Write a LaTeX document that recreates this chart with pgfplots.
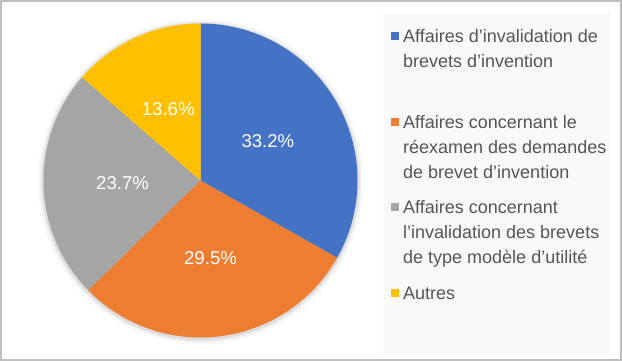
\documentclass[border=0pt]{standalone}
\usepackage{pgfplots}
\pgfplotsset{compat=1.18}
\usepackage{fontspec}
\setmainfont{Liberation Sans}
\definecolor{cBlue}{HTML}{4472C4}
\definecolor{cOrange}{HTML}{ED7D31}
\definecolor{cGray}{HTML}{A5A5A5}
\definecolor{cYellow}{HTML}{FFC000}
\definecolor{txt}{HTML}{555555}
\definecolor{legbg}{HTML}{F9F9F9}
\definecolor{frame}{HTML}{BFBFBF}
\begin{document}
\begin{tikzpicture}[x=1pt,y=1pt]
% slice values (percent)
\def\vA{33.2}\def\vB{29.5}\def\vC{23.7}\def\vD{13.6}
\pgfmathsetmacro\aA{90}
\pgfmathsetmacro\aB{\aA-3.6*\vA}
\pgfmathsetmacro\aC{\aB-3.6*\vB}
\pgfmathsetmacro\aD{\aC-3.6*\vC}
\pgfmathsetmacro\aE{\aD-3.6*\vD}
\pgfmathsetmacro\mA{(\aA+\aB)/2}
\pgfmathsetmacro\mB{(\aB+\aC)/2}
\pgfmathsetmacro\mC{(\aC+\aD)/2}
\pgfmathsetmacro\mD{(\aD+\aE)/2}
\def\pcx{200.5}\def\pcy{180.5}\def\pieR{157}\def\pieL{78}
\begin{axis}[at={(0,0)}, anchor=south west, x=1pt, y=1pt,
  xmin=0, xmax=622, ymin=0, ymax=361, hide axis, clip=false,
  scale only axis]
% background and frame
\fill[white] (0,0) rectangle (622,361);
\fill[legbg] (383,6) rectangle (610,348);
% soft shadow
\fill[black, opacity=0.02] (\pcx,\pcy-1) circle[radius=163];
\fill[black, opacity=0.03] (\pcx,\pcy-1) circle[radius=161];
\fill[black, opacity=0.04] (\pcx,\pcy-1) circle[radius=159.5];
\fill[black, opacity=0.05] (\pcx,\pcy-1) circle[radius=158.5];
% slices
\addplot[draw=none, fill=cBlue, domain=\aB:\aA, samples=120, variable=\t]
  ({\pcx+\pieR*cos(\t)},{\pcy+\pieR*sin(\t)}) -- (\pcx,\pcy) -- cycle;
\addplot[draw=none, fill=cOrange, domain=\aC:\aB, samples=120, variable=\t]
  ({\pcx+\pieR*cos(\t)},{\pcy+\pieR*sin(\t)}) -- (\pcx,\pcy) -- cycle;
\addplot[draw=none, fill=cGray, domain=\aD:\aC, samples=120, variable=\t]
  ({\pcx+\pieR*cos(\t)},{\pcy+\pieR*sin(\t)}) -- (\pcx,\pcy) -- cycle;
\addplot[draw=none, fill=cYellow, domain=\aE:\aD, samples=120, variable=\t]
  ({\pcx+\pieR*cos(\t)},{\pcy+\pieR*sin(\t)}) -- (\pcx,\pcy) -- cycle;
% value labels
\node[text=white, font=\fontsize{18.6}{18.6}\selectfont, inner sep=0pt] at ({\pcx+\pieL*cos(\mA)},{\pcy+\pieL*sin(\mA)}) {33.2\%};
\node[text=white, font=\fontsize{18.6}{18.6}\selectfont, inner sep=0pt] at ({\pcx+\pieL*cos(\mB)},{\pcy+\pieL*sin(\mB)}) {29.5\%};
\node[text=white, font=\fontsize{18.6}{18.6}\selectfont, inner sep=0pt] at ({\pcx+\pieL*cos(\mC)},{\pcy+\pieL*sin(\mC)}) {23.7\%};
\node[text=white, font=\fontsize{18.6}{18.6}\selectfont, inner sep=0pt] at ({\pcx+\pieL*cos(\mD)},{\pcy+\pieL*sin(\mD)}) {13.6\%};
% legend
\fill[cBlue]   (390.7,361-43+2.5) rectangle ++(8.6,8.6);
\fill[cOrange] (390.7,361-129+2.5) rectangle ++(8.6,8.6);
\fill[cGray]   (390.7,361-214+2.5) rectangle ++(8.6,8.6);
\fill[cYellow] (390.7,361-300+2.5) rectangle ++(8.6,8.6);
\begin{scope}[every node/.style={text=txt, font=\fontsize{18}{18}\selectfont, inner sep=0pt, anchor=base west}]
\node at (403,361-43) {Affaires d’invalidation de};
\node at (403,361-68) {brevets d’invention};
\node at (403,361-129) {Affaires concernant le};
\node at (403,361-154) {réexamen des demandes};
\node at (403,361-179) {de brevet d’invention};
\node at (403,361-214) {Affaires concernant};
\node at (403,361-239) {l’invalidation des brevets};
\node at (403,361-264) {de type modèle d’utilité};
\node at (403,361-300) {Autres};
\end{scope}
\draw[frame, line width=2pt] (1,1) rectangle (621,360);
\end{axis}
\end{tikzpicture}
\end{document}
